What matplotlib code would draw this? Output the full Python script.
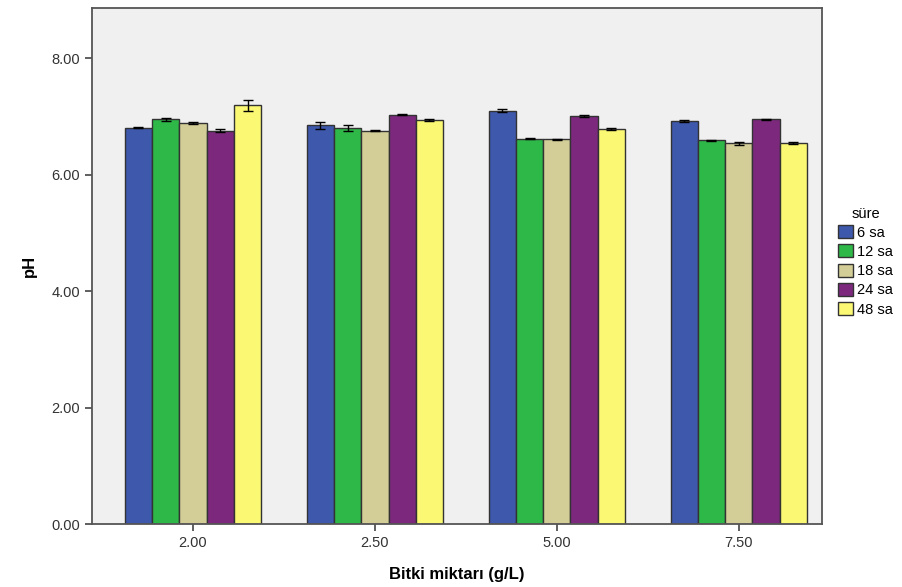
import numpy as np
import matplotlib
matplotlib.use("Agg")
import matplotlib.pyplot as plt

plt.rcParams["font.family"] = ["Liberation Sans", "DejaVu Sans"]

# veriler
groups = ["2.00", "2.50", "5.00", "7.50"]
series = ["6 sa", "12 sa", "18 sa", "24 sa", "48 sa"]
ph_6 = [6.81, 6.85, 7.10, 6.92]
ph_12 = [6.95, 6.80, 6.62, 6.59]
ph_18 = [6.89, 6.76, 6.61, 6.54]
ph_24 = [6.76, 7.03, 7.01, 6.95]
ph_48 = [7.19, 6.94, 6.79, 6.55]
err_6 = [0.01, 0.06, 0.03, 0.02]
err_12 = [0.03, 0.05, 0.01, 0.01]
err_18 = [0.01, 0.01, 0.01, 0.03]
err_24 = [0.02, 0.01, 0.02, 0.01]
err_48 = [0.10, 0.02, 0.02, 0.02]
colors = ["#3E58AC", "#2EB848", "#D3CE97", "#7C287D", "#FBF873"]

values = [ph_6, ph_12, ph_18, ph_24, ph_48]
errors = [err_6, err_12, err_18, err_24, err_48]

fig = plt.figure(figsize=(9.02, 5.87), dpi=100)
ax = fig.add_axes([0.102, 0.107, 0.809, 0.879])
ax.set_facecolor("#F0F0F0")

x = np.arange(len(groups))
w = 0.15
for i in range(len(series)):
    pos = x + (i - 2) * w
    ax.bar(pos, values[i], width=w, color=colors[i], edgecolor="#333333",
           linewidth=1.0, label=series[i], zorder=2)
    ax.errorbar(pos, values[i], yerr=errors[i], fmt="none", ecolor="black",
                elinewidth=1.0, capsize=3.5, capthick=1.0, zorder=3)

ax.set_xlim(-0.555, 3.456)
ax.set_ylim(0, 8.86)
ax.set_yticks([0, 2, 4, 6, 8])
ax.set_yticklabels(["0.00", "2.00", "4.00", "6.00", "8.00"])
ax.set_xticks(x)
ax.set_xticklabels(groups)
ax.tick_params(axis="both", labelsize=10.5, colors="#444444", length=5, width=1.2)
ax.tick_params(axis="both", labelcolor="#333333")
for s in ax.spines.values():
    s.set_color("#555555")
    s.set_linewidth(1.3)

ax.set_xlabel("Bitki miktarı (g/L)", fontsize=12, fontweight="bold")
ax.xaxis.set_label_coords(0.5, -0.082)
ax.set_ylabel("pH", fontsize=12, fontweight="bold")
ax.yaxis.set_label_coords(-0.075, 0.5)

fig.legend(loc="upper left", bbox_to_anchor=(0.923, 0.658), title="süre",
           frameon=False, fontsize=10.5, title_fontsize=10.5,
           handlelength=1.0, handleheight=1.0, handletextpad=0.3,
           labelspacing=0.32, borderaxespad=0)

fig.savefig("out.png", dpi=100)
